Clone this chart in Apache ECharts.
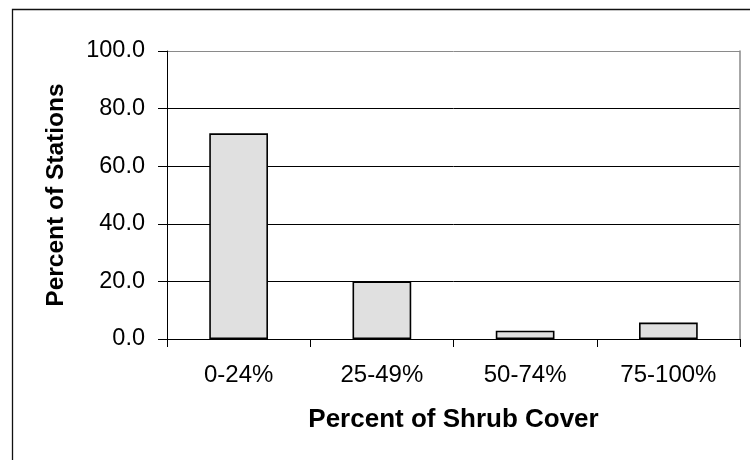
<!DOCTYPE html>
<html>
<head>
<meta charset="utf-8">
<script src="https://cdn.jsdelivr.net/npm/echarts@6/dist/echarts.min.js"></script>
<style>
  html, body { margin: 0; padding: 0; background: #fff; }
  #chart { width: 750px; height: 460px; }
</style>
</head>
<body>
<div id="chart"></div>
<script>
// Shrub cover classes and share of stations in each
const coverClasses = ['0-24%', '25-49%', '50-74%', '75-100%'];
const stationPercents = [71.4, 20.0, 2.9, 5.7];
const yTicks = { min: 0, max: 100, interval: 20 };

const FONT = '"Liberation Sans", Arial, sans-serif';

const chart = echarts.init(document.getElementById('chart'), null, { renderer: 'canvas' });

chart.setOption({
  backgroundColor: '#fff',
  animation: false,
  graphic: [{
    type: 'rect',
    z: -10,
    shape: { x: 12.5, y: 9.5, width: 800, height: 500 },
    style: { fill: 'none', stroke: '#111', lineWidth: 1.3 }
  }],
  grid: { left: 167, top: 51, right: 10, bottom: 121, containLabel: false },
  xAxis: {
    type: 'category',
    data: coverClasses,
    boundaryGap: true,
    name: 'Percent of Shrub Cover',
    nameLocation: 'middle',
    nameGap: 68,
    nameTextStyle: { fontFamily: FONT, fontSize: 26, fontWeight: 'bold', color: '#000' },
    axisLine: { show: true, lineStyle: { color: '#000', width: 1 } },
    axisTick: { show: true, alignWithLabel: false, length: 8, lineStyle: { color: '#000', width: 1 } },
    axisLabel: { fontFamily: FONT, fontSize: 24, color: '#000', margin: 24 },
    splitLine: { show: false }
  },
  yAxis: [{
    type: 'value',
    min: yTicks.min,
    max: yTicks.max,
    interval: yTicks.interval,
    name: 'Percent of Stations',
    nameLocation: 'middle',
    nameGap: 98,
    nameTextStyle: { fontFamily: FONT, fontSize: 24.5, fontWeight: 'bold', color: '#000' },
    axisLine: { show: true, lineStyle: { color: '#000', width: 1 } },
    axisTick: { show: true, length: 9, lineStyle: { color: '#000', width: 1 } },
    axisLabel: {
      fontFamily: FONT, fontSize: 23.5, color: '#000', margin: 22,
      formatter: v => v.toFixed(1)
    },
    splitLine: {
      show: true,
      lineStyle: { color: ['#000', '#000', '#000', '#000', '#000', '#8a8a8a'], width: 1 }
    }
  }, {
    // right-hand frame of the plot area
    type: 'value',
    position: 'right',
    min: yTicks.min,
    max: yTicks.max,
    interval: yTicks.interval,
    axisLine: { show: true, lineStyle: { color: '#8a8a8a', width: 1.5 } },
    axisTick: { show: false },
    axisLabel: { show: false },
    splitLine: { show: false }
  }],
  series: [{
    type: 'bar',
    data: stationPercents,
    barWidth: '41%',
    itemStyle: { color: '#e0e0e0', borderColor: '#000', borderWidth: 1.6 }
  }]
});
</script>
</body>
</html>
